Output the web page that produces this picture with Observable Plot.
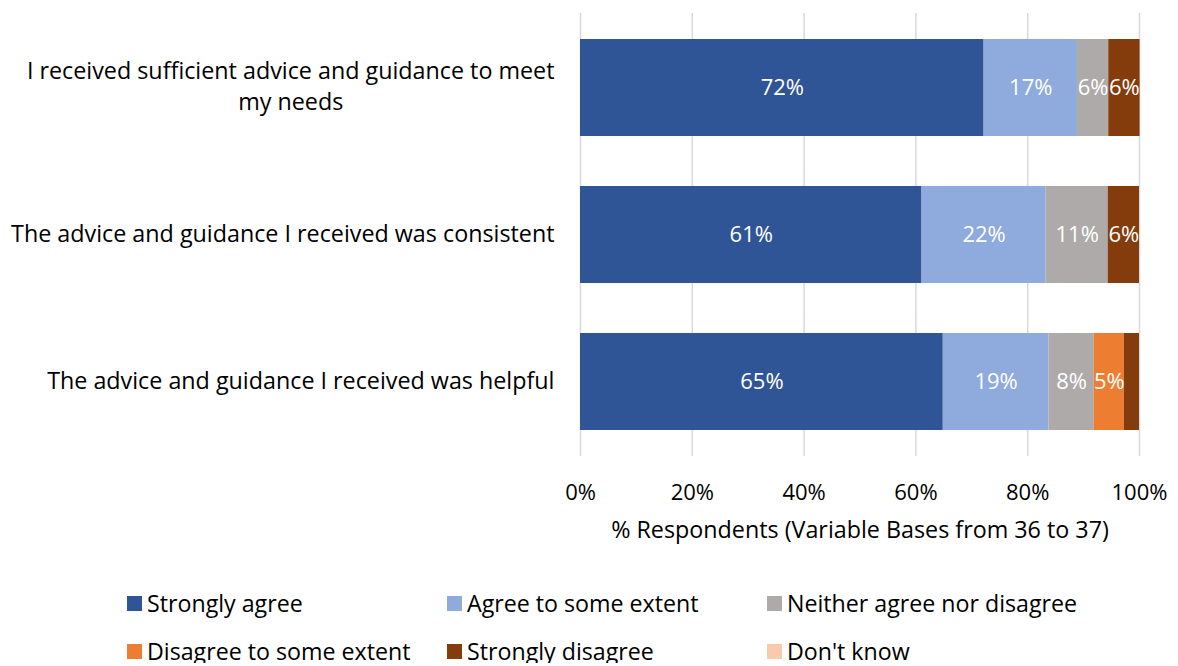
<!DOCTYPE html>
<html>
<head>
<meta charset="utf-8">
<script src="https://cdn.jsdelivr.net/npm/d3@7"></script>
<script src="https://cdn.jsdelivr.net/npm/@observablehq/plot@0.6"></script>
<style>
  body { margin: 0; background: #fff; font-family: "Open Sans", Lato, sans-serif; }
  #legend { display: grid; grid-template-columns: 320px 320px 320px; padding-left: 127px; row-gap: 24px; margin-top: 36px; }
  .item { display: flex; align-items: center; font-size: 23.2px; color: #000; height: 24px; }
  .sw { width: 15px; height: 15px; margin-right: 5px; flex: none; }
</style>
</head>
<body>
<div id="chart"></div>
<div id="legend"></div>
<script>
const questions = [
  "I received sufficient advice and guidance to meet\nmy needs",
  "The advice and guidance I received was consistent",
  "The advice and guidance I received was helpful"
];
const responses = ["Strongly agree", "Agree to some extent", "Neither agree nor disagree", "Disagree to some extent", "Strongly disagree", "Don't know"];
const colors = ["#2F5597", "#8FAADC", "#AEAAAA", "#ED7D31", "#843C0C", "#F8CBAD"];
// percentages per question, in response order
const q1Values = [72.2, 16.7, 5.6, 0, 5.6, 0];
const q2Values = [61.1, 22.2, 11.1, 0, 5.6, 0];
const q3Values = [64.9, 18.9, 8.1, 5.4, 2.7, 0];
const xTicks = [0, 20, 40, 60, 80, 100];
const xLabel = "% Respondents (Variable Bases from 36 to 37)";

const allValues = [q1Values, q2Values, q3Values];
const data = [];
questions.forEach((q, i) => responses.forEach((r, j) => data.push({q, r, value: allValues[i][j]})));

const font = "'Open Sans', Lato, sans-serif";
const W = 1178, H = 555;
const mL = 580, mR = 39, mT = 13, mB = 99;
const labelSize = 23.3;

function textWidth(s, size) {
  const c = document.createElement("canvas").getContext("2d");
  c.font = `${size}px ${font}`;
  return c.measureText(s).width;
}

const labelData = questions.map(q => {
  const lines = q.split("\n");
  const multi = lines.length > 1;
  const w = Math.max(...lines.map(l => textWidth(l, labelSize)));
  return {q, multi, dx: multi ? -26 - w / 2 : -26};
});

const chart = Plot.plot({
  width: W, height: H,
  marginLeft: mL, marginRight: mR, marginTop: mT, marginBottom: mB,
  style: {fontFamily: font, fontSize: "22px", color: "#000", background: "#fff"},
  x: {domain: [0, 100], ticks: xTicks, tickFormat: d => d + "%", label: null},
  y: {domain: questions, paddingInner: 0.34, paddingOuter: 0.17, axis: null},
  color: {domain: responses, range: colors},
  marks: [
    Plot.gridX(xTicks, {stroke: "#d9d9d9", strokeOpacity: 1, strokeWidth: 1.5}),
    Plot.barX(data, Plot.stackX({x: "value", y: "q", z: "r", fill: "r", order: responses})),
    Plot.text(data, Plot.stackX({x: "value", y: "q", z: "r", order: responses,
      text: d => d.value >= 4 ? Math.round(d.value) + "%" : "",
      fill: "white", fontSize: 22})),
    Plot.axisX({ticks: xTicks, tickFormat: d => d + "%", tickSize: 0, tickPadding: 28, fontSize: 22, label: null}),
    Plot.text(labelData.filter(d => !d.multi), {x: () => 0, y: "q", text: d => d.q, textAnchor: "end", dx: -26, fill: "#000", fontSize: labelSize}),
    ...labelData.filter(d => d.multi).map(d =>
      Plot.text([d], {x: () => 0, y: "q", text: v => v.q, textAnchor: "middle", dx: d.dx, dy: -3, fill: "#000", fontSize: labelSize, lineHeight: 1.33})
    ),
    Plot.text([xLabel], {frameAnchor: "bottom", dy: 81, text: d => d, fill: "#000", fontSize: labelSize})
  ]
});
document.getElementById("chart").appendChild(chart);

const legend = document.getElementById("legend");
responses.forEach((r, i) => {
  const item = document.createElement("div");
  item.className = "item";
  const sw = document.createElement("span");
  sw.className = "sw";
  sw.style.background = colors[i];
  const t = document.createElement("span");
  t.textContent = r;
  item.appendChild(sw); item.appendChild(t);
  legend.appendChild(item);
});
</script>
</body>
</html>
